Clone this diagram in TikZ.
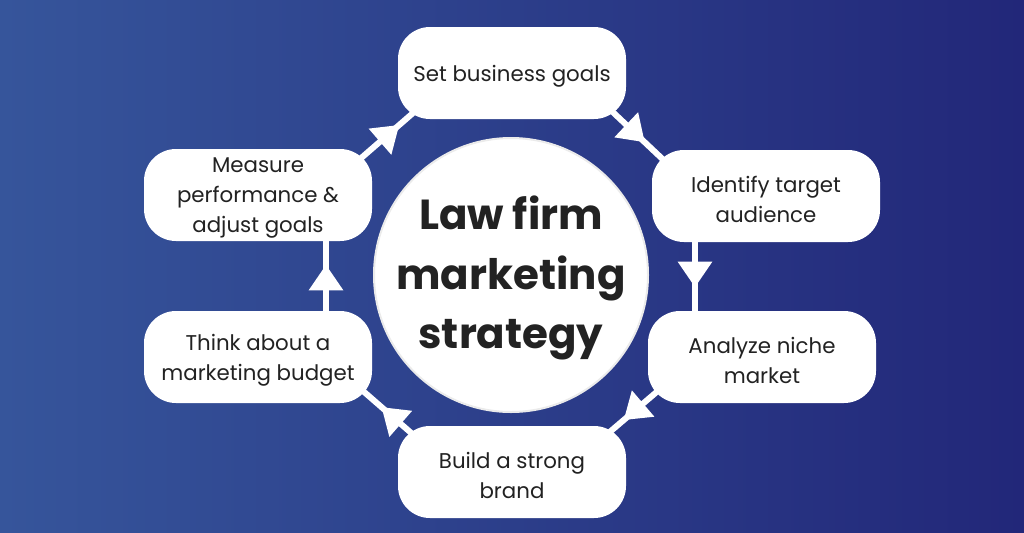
\documentclass[tikz,border=0pt]{standalone}
\usepackage{fontspec}
\setmainfont{Poppins}
\usetikzlibrary{arrows.meta,decorations.markings}
\definecolor{bgleft}{HTML}{36559B}
\definecolor{bgright}{HTML}{222779}
\definecolor{ink}{HTML}{222222}
\begin{document}
\begin{tikzpicture}[x=0.75pt,y=-0.75pt,
  stepbox/.style={draw=none,fill=white,rounded corners=24pt,minimum width=171pt,minimum height=69pt,inner sep=0pt},
  steptext/.style={align=center,text=ink,font=\fontsize{16pt}{22.5pt}\selectfont,inner sep=0pt,yshift=-2.5pt},
  hub/.style={circle,fill=white,draw=black!8,line width=1.5pt,minimum size=205.5pt,inner sep=0pt},
  hubtext/.style={align=center,text=ink,font=\bfseries\fontsize{31.5pt}{44.6pt}\selectfont,inner sep=0pt,yshift=-2.5pt},
  flow/.style={draw=white,line width=4.5pt,postaction={decorate},
    decoration={markings,mark=at position #1 with {\arrow[line width=0pt]{Triangle[length=19pt,width=26pt,fill=white]}}}},
]
\shade[left color=bgleft,right color=bgright] (0,0) rectangle (1024,532);
\useasboundingbox (0,0) rectangle (1024,532);
% named path ends
\coordinate (a1s) at (600,100); \coordinate (a1e) at (672,168);
\coordinate (a2s) at (695,230); \coordinate (a2e) at (695,322);
\coordinate (a3s) at (666,384); \coordinate (a3e) at (598,442);
\coordinate (a4s) at (425,445); \coordinate (a4e) at (355,384);
\coordinate (a5s) at (326,322); \coordinate (a5e) at (326,230);
\coordinate (a6s) at (352,166); \coordinate (a6e) at (428,100);
\draw[flow=0.62] (a1s) -- (a1e);
\draw[flow=0.62] (a2s) -- (a2e);
\draw[flow=0.62] (a3s) -- (a3e);
\draw[flow=0.62] (a4s) -- (a4e);
\draw[flow=0.62] (a5s) -- (a5e);
\draw[flow=0.62] (a6s) -- (a6e);
\node[hub,label={[hubtext]center:{Law firm\\marketing\\strategy}}] (hub) at (511,275) {};
\node[stepbox,label={[steptext]center:{Set business goals}}] (s1) at (512,73) {};
\node[stepbox,label={[steptext]center:{Identify target\\audience}}] (s2) at (766,196) {};
\node[stepbox,label={[steptext]center:{Analyze niche\\market}}] (s3) at (762,357) {};
\node[stepbox,label={[steptext]center:{Build a strong\\brand}}] (s4) at (512,472) {};
\node[stepbox,label={[steptext]center:{Think about a\\marketing budget}}] (s5) at (258,357) {};
\node[stepbox,label={[steptext]center:{Measure\\performance \&\\adjust goals}}] (s6) at (258,195) {};
\end{tikzpicture}
\end{document}
